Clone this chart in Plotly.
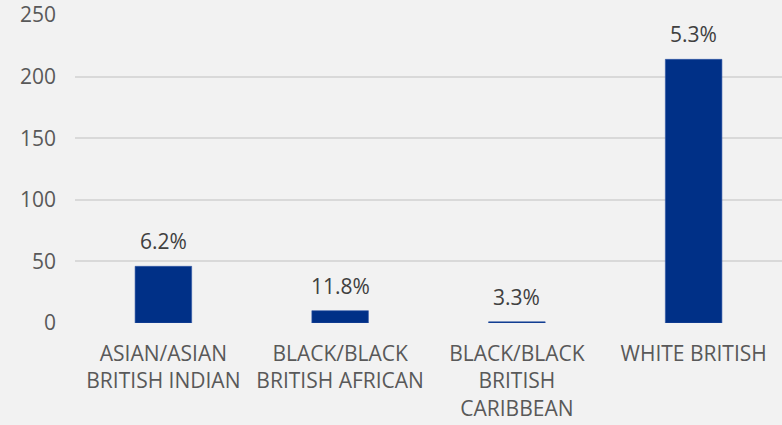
import plotly.graph_objects as go

categories = ["ASIAN/ASIAN<br>BRITISH INDIAN", "BLACK/BLACK<br>BRITISH AFRICAN",
              "BLACK/BLACK<br>BRITISH<br>CARIBBEAN", "WHITE BRITISH"]
values = [46, 10, 1, 214]
labels = ["6.2%", "11.8%", "3.3%", "5.3%"]
y_ticks = [0, 50, 100, 150, 200, 250]

FONT = "Open Sans"
fig = go.Figure()
fig.add_trace(go.Bar(x=categories, y=values, marker=dict(color="#003087",
                     line=dict(color="#2f55a4", width=0.6)), width=0.32))

for c, v, t in zip(categories, values, labels):
    fig.add_annotation(x=c, y=v, text=t, showarrow=False, yshift=25,
                       font=dict(family=FONT, size=21, color="#404040"))

fig.update_layout(
    width=782, height=425,
    margin=dict(l=75, r=0, t=15, b=102),
    paper_bgcolor="#f2f2f2", plot_bgcolor="#f2f2f2",
    showlegend=False,
    font=dict(family=FONT, size=21, color="#595959"),
)
fig.update_yaxes(range=[0, 250], tickvals=y_ticks, showgrid=True, gridcolor="#d9d9d9",
                 gridwidth=1.5, zeroline=False, ticklabelstandoff=18, showline=False,
                 tickfont=dict(family=FONT, size=21, color="#595959"))
fig.update_xaxes(showline=False, ticklabelstandoff=16,
                 tickfont=dict(family=FONT, size=21, color="#595959"))

fig.write_html("out.html", config={"displayModeBar": False},
               post_script="document.body.style.margin='0';document.body.style.background='#f2f2f2';")
